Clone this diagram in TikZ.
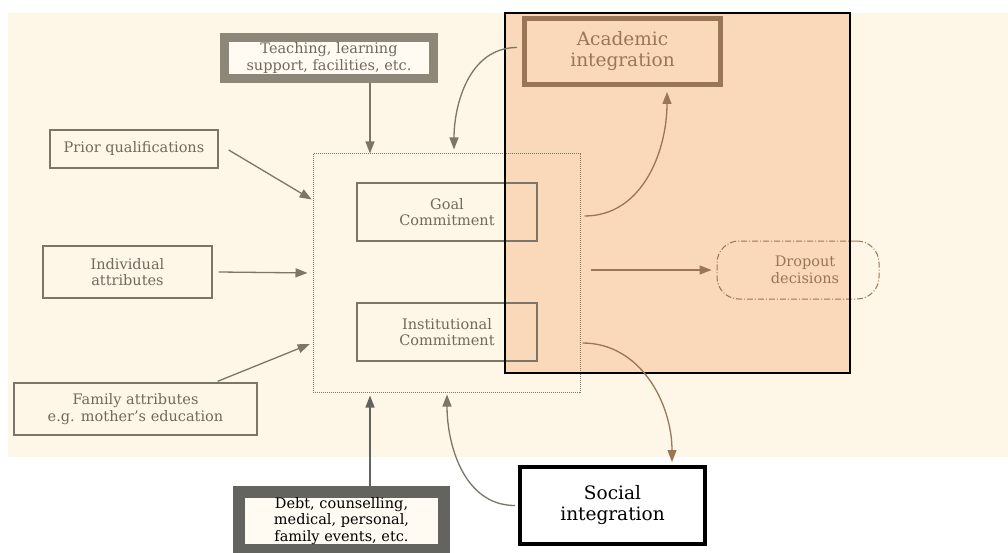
\documentclass[tikz,border=0pt]{standalone}
\usepackage{fontspec}
\setmainfont{DejaVu Serif}
\usepackage{tikz}
\usetikzlibrary{arrows.meta,positioning,calc}
\definecolor{creambg}{HTML}{FEF7E7}
\definecolor{peach}{HTML}{F9D9BA}
\definecolor{linegray}{HTML}{7A7668}
\definecolor{txtgray}{HTML}{6E6A5E}
\definecolor{brownish}{HTML}{9A7556}
\definecolor{framegray}{HTML}{8C8779}
\definecolor{darkframe}{HTML}{636360}
\definecolor{innerwhite}{HTML}{FFFBF2}

\begin{document}
\begin{tikzpicture}[x=1pt, y=-1pt,
  every node/.style={font=\fontsize{14.5}{16.5}\selectfont, align=center, text=txtgray},
  factor/.style={draw=linegray, line width=1.4pt, inner sep=0pt},
  framed/.style={line width=9pt, fill=innerwhite, inner sep=0pt},
  integ/.style={inner sep=0pt, font=\fontsize{18.5}{21}\selectfont},
  arr/.style={-{Triangle[length=12pt,width=9pt]}, linegray, line width=1.3pt},
]
  \useasboundingbox (0,0) rectangle (1008,553);

  % backgrounds
  \fill[creambg] (8,13) rectangle (1008,457);
  \fill[peach] (505,13) rectangle (850,373);

  % inputs
  \node[framed, draw=framegray, minimum width=209pt, minimum height=41pt] (teach) at (329,58) {Teaching, learning\\support, facilities, etc.};
  \node[factor, minimum width=168pt, minimum height=38pt] (prior) at (134,149) {Prior qualifications};
  \node[factor, minimum width=169pt, minimum height=52pt] (indiv) at (127.5,272) {Individual\\attributes};
  \node[factor, minimum width=243pt, minimum height=52pt] (family) at (135.5,409) {Family attributes\\e.g. mother's education};
  \node[framed, draw=darkframe, line width=12pt, minimum width=205pt, minimum height=58pt, text=black] (debt) at (341.5,521) {Debt, counselling,\\medical, personal,\\family events, etc.};

  % commitments
  \node[draw=linegray, densely dotted, line width=1pt, minimum width=267pt, minimum height=238pt] (core) at (446.5,273) {};
  \node[factor, minimum width=180pt, minimum height=58pt] (goal) at (447,212) {Goal\\Commitment};
  \node[factor, minimum width=180pt, minimum height=58pt] (inst) at (447,332) {Institutional\\Commitment};

  % outcomes
  \node[integ, draw=brownish, line width=5pt, minimum width=196pt, minimum height=66pt, text=brownish] (acad) at (622.5,51.5) {Academic\\integration};
  \node[integ, draw=black, line width=4pt, fill=white, minimum width=185pt, minimum height=77pt, text=black] (social) at (612.5,505.5) {Social\\integration};
  \node[draw=brownish, dash pattern=on 6pt off 2pt on 1pt off 2pt, line width=1pt, rounded corners=22pt, minimum width=162pt, minimum height=58pt, text=brownish] (dropout) at (798,270) {\hspace*{14pt}Dropout\\\hspace*{14pt}decisions};

  \draw[black, line width=1.2pt] (505,13) rectangle (850,373);

  % connectors
  \draw[arr] (teach.south -| 370,0) -- (core.north -| 370,0);
  \draw[arr, shorten >=1pt] (prior.east) ++(10,1) -- ([yshift=73pt]core.west);
  \draw[arr, shorten >=5pt] ([xshift=6pt]indiv.east) -- (core.west);
  \draw[arr, darkframe, shorten >=3pt] (debt.north -| 370,0) -- (core.south -| 370,0);
  \draw[arr, shorten >=3pt] ([xshift=-40pt,yshift=1pt]family.north east) -- ([yshift=-70pt]core.west);
  \draw[arr, shorten >=4pt] ([xshift=-5pt,yshift=4pt]acad.west) to[out=180, in=90] (core.north -| 454,0);
  \draw[arr, shorten >=2pt] ([xshift=-3pt]social.west) to[out=180, in=-90] (core.south -| 447,0);
  \draw[arr, brownish] ([yshift=57pt]core.east) ++(4,0) to[out=0, in=-90] ([yshift=-5pt]acad.south -| 667,0);
  \draw[arr, brownish, shorten >=5pt] ($(dropout.west -| core.east)+(10,0)$) -- (dropout.west);
  \draw[arr, brownish] ([yshift=-70pt]core.east) ++(2,0) to[out=0, in=90] ([yshift=3pt]social.north -| 672,0);
\end{tikzpicture}
\end{document}
